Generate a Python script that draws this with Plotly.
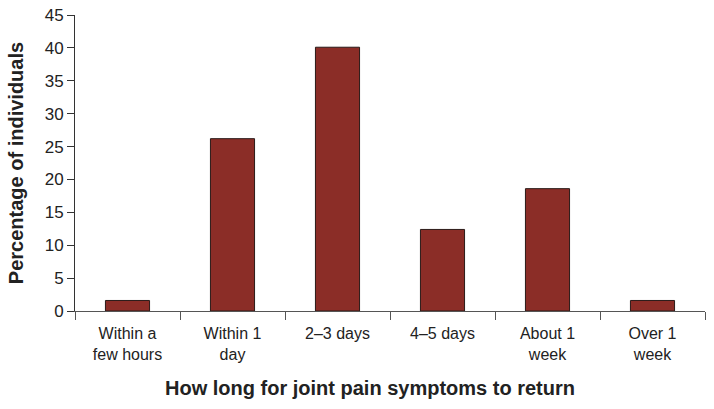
import plotly.graph_objects as go

# Time until joint pain returned (share of individuals, %)
categories = ["Within a<br>few hours", "Within 1<br>day", "2–3 days", "4–5 days", "About 1<br>week", "Over 1<br>week"]
percentages = [1.6, 26.2, 40.1, 12.4, 18.6, 1.6]
y_ticks = [0, 5, 10, 15, 20, 25, 30, 35, 40, 45]

fig = go.Figure(go.Bar(
    x=categories,
    y=percentages,
    marker=dict(color="#8B2D27", line=dict(color="#2a1a18", width=1)),
))

font = "Liberation Sans, Arial, sans-serif"
fig.update_layout(
    width=714, height=409,
    margin=dict(l=75, r=9, t=15, b=98),
    plot_bgcolor="white", paper_bgcolor="white",
    bargap=0.58,
    showlegend=False,
    font=dict(family=font, size=16, color="#222"),
)
fig.update_xaxes(
    showline=True, linecolor="#555", linewidth=1,
    ticks="outside", tickson="boundaries", ticklen=8, tickcolor="#555",
    tickfont=dict(size=16), ticklabelstandoff=8,
    automargin=False,
)
fig.update_yaxes(
    range=[0, 45], tickvals=y_ticks,
    showline=True, linecolor="#333", linewidth=1,
    ticks="outside", ticklen=7, tickcolor="#333",
    showgrid=False, zeroline=False,
    tickfont=dict(size=17), ticklabeloverflow="allow",
    automargin=False,
    title=dict(text="<b>Percentage of individuals</b>", font=dict(size=20), standoff=15),
)
# x title sits a bit left of the plot centre in the original
fig.add_annotation(
    text="<b>How long for joint pain symptoms to return</b>",
    xref="paper", yref="paper", x=0.468, y=-0.26,
    xanchor="center", yanchor="middle", showarrow=False,
    font=dict(size=20, color="#222"),
)

# drop the default page margin so the figure fills the window; no modebar
fig.write_html("out.html", config={"displayModeBar": False},
               post_script="document.body.style.margin='0';")
